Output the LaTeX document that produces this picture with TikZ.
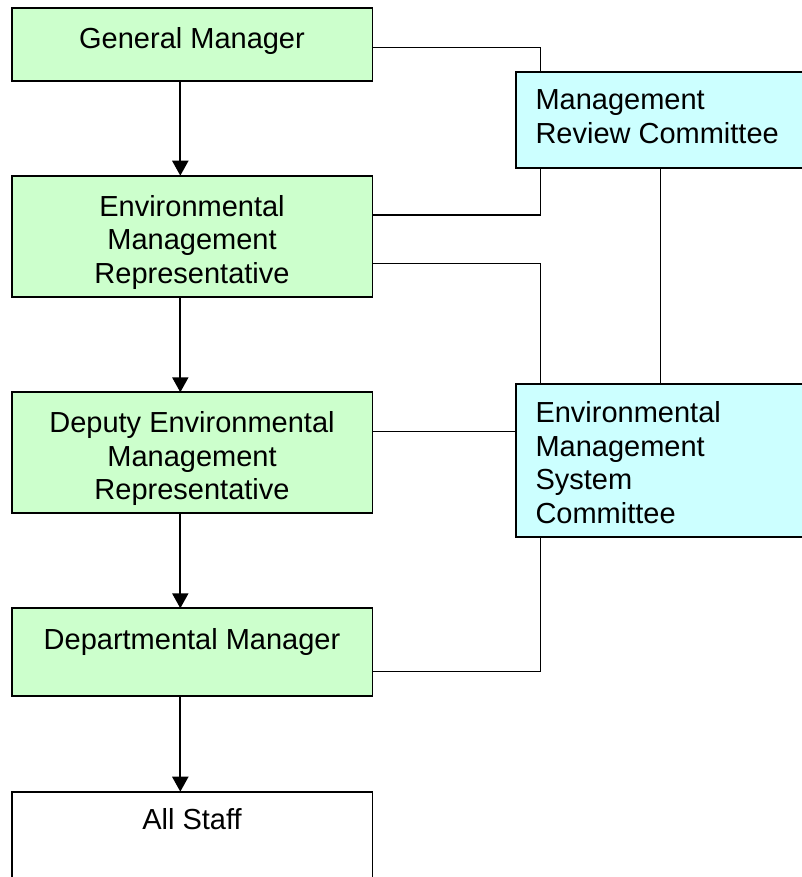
\documentclass[tikz,border=0pt]{standalone}
\usepackage{fontspec}
\setmainfont{Liberation Sans}
\usetikzlibrary{arrows.meta}
\definecolor{boxgreen}{HTML}{CCFFCC}
\definecolor{boxcyan}{HTML}{CCFFFF}
\tikzset{
  box/.style={draw=black, line width=1.8pt, rectangle, inner sep=0pt, outer sep=0pt, anchor=north west},
  gbox/.style={box, fill=boxgreen},
  cbox/.style={box, fill=boxcyan},
  wbox/.style={box, fill=white},
  txt/.style={inner sep=0pt, outer sep=0pt, font=\fontsize{29}{33.5}\selectfont},
  conn/.style={draw=black, line width=1.5pt},
  arr/.style={draw=black, line width=2.2pt, -{Triangle[length=15pt,width=16pt]}}
}
\begin{document}
\begin{tikzpicture}[x=1pt,y=-1pt]
\useasboundingbox (0,0) rectangle (801,877);
% boxes
\node[gbox, minimum width=360.5pt, minimum height=72.7pt] (GM) at (12,8) {};
\node[gbox, minimum width=360.5pt, minimum height=121pt] (EMR) at (12,175.7) {};
\node[gbox, minimum width=360.5pt, minimum height=120.4pt] (DEMR) at (12,392.3) {};
\node[gbox, minimum width=360.5pt, minimum height=87.4pt] (DM) at (12,608.3) {};
\node[wbox, minimum width=360.5pt, minimum height=120pt] (AS) at (12,791.7) {};
\node[cbox, minimum width=310pt, minimum height=96pt] (MRC) at (516,71.7) {};
\node[cbox, minimum width=310pt, minimum height=152.7pt] (EMS) at (516,384) {};
% texts
\node[txt, anchor=north, align=center] (GMt) at (192,27) {General Manager};
\node[txt, anchor=north, align=center] (EMRt) at (192,195) {Environmental\\Management\\Representative};
\node[txt, anchor=north, align=center] (DEMRt) at (192,411.7) {Deputy Environmental\\Management\\Representative};
\node[txt, anchor=north, align=center] (DMt) at (192,628) {Departmental Manager};
\node[txt, anchor=north, align=center] (ASt) at (192,808) {All Staff};
\node[txt, anchor=north west, align=left] (MRCt) at (535.5,90) {Management\\Review Committee};
\node[txt, anchor=north west, align=left] (EMSt) at (535.5,401.7) {Environmental\\Management\\System\\Committee};
% vertical arrows
\draw[arr] ({180.3,0} |- GM.south) -- ({180.3,0} |- EMR.north);
\draw[arr] ({180.3,0} |- EMR.south) -- ({180.3,0} |- DEMR.north);
\draw[arr] ({180.3,0} |- DEMR.south) -- ({180.3,0} |- DM.north);
\draw[arr] ({180.3,0} |- DM.south) -- ({180.3,0} |- AS.north);
% committee connectors
\draw[conn] (GM.east |- {0,47.3}) -| ({540.3,0} |- MRC.north);
\draw[conn] ({540.3,0} |- MRC.south) |- (EMR.east |- {0,215});
\draw[conn] ({660.7,0} |- MRC.south) -- ({660.7,0} |- EMS.north);
\draw[conn] (EMR.east |- {0,263.3}) -| ({540.3,0} |- EMS.north);
\draw[conn] (DEMR.east |- {0,431.3}) -- (EMS.west |- {0,431.3});
\draw[conn] ({540.3,0} |- EMS.south) |- (DM.east |- {0,671.7});
\end{tikzpicture}
\end{document}
